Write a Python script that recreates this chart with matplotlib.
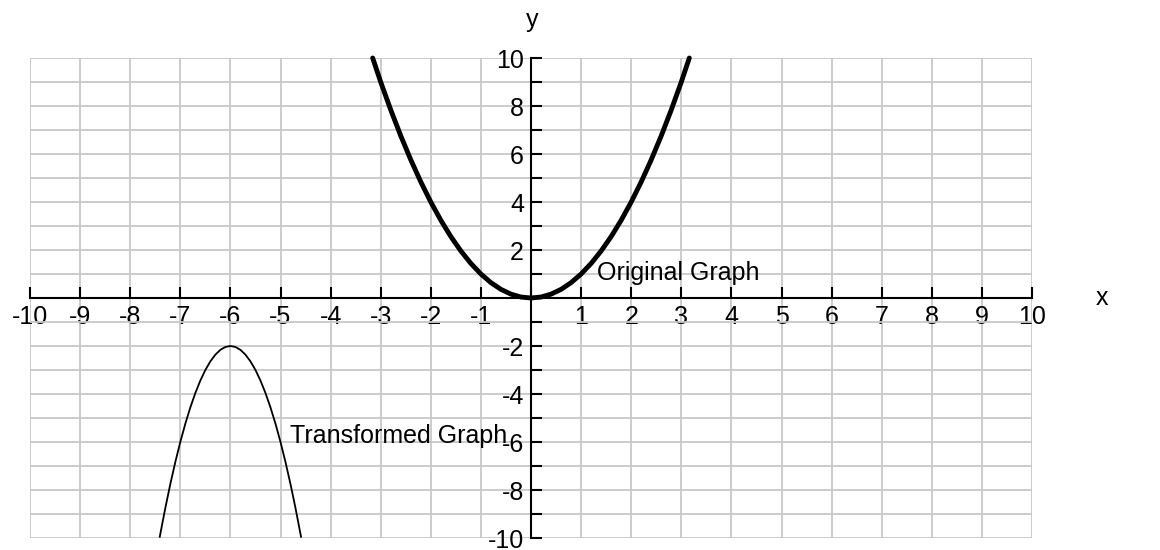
import numpy as np
import matplotlib.pyplot as plt
from matplotlib.ticker import FuncFormatter

plt.rcParams['font.family'] = ['Liberation Sans', 'DejaVu Sans']
plt.rcParams['axes.unicode_minus'] = False

# points
orig_x = [-3.16, -3.0, -2.8, -2.6, -2.4, -2.2, -2.0, -1.8, -1.6, -1.4, -1.2, -1.0,
          -0.8, -0.6, -0.4, -0.2, 0.0, 0.2, 0.4, 0.6, 0.8, 1.0, 1.2, 1.4, 1.6,
          1.8, 2.0, 2.2, 2.4, 2.6, 2.8, 3.0, 3.16]
orig_y = [10.0, 9.0, 7.84, 6.76, 5.76, 4.84, 4.0, 3.24, 2.56, 1.96, 1.44, 1.0,
          0.64, 0.36, 0.16, 0.04, 0.0, 0.04, 0.16, 0.36, 0.64, 1.0, 1.44, 1.96, 2.56,
          3.24, 4.0, 4.84, 5.76, 6.76, 7.84, 9.0, 10.0]

trans_x = [-7.41, -7.3, -7.2, -7.1, -7.0, -6.9, -6.8, -6.7, -6.6, -6.5, -6.4, -6.3,
           -6.2, -6.1, -6.0, -5.9, -5.8, -5.7, -5.6, -5.5, -5.4, -5.3, -5.2, -5.1,
           -5.0, -4.9, -4.8, -4.7, -4.59]
trans_y = [-9.95, -8.76, -7.76, -6.84, -6.0, -5.24, -4.56, -3.96, -3.44, -3.0, -2.64,
           -2.36, -2.16, -2.04, -2.0, -2.04, -2.16, -2.36, -2.64, -3.0, -3.44, -3.96,
           -4.56, -5.24, -6.0, -6.84, -7.76, -8.76, -9.95]

x_ticks = list(range(-10, 11))
y_major = list(range(-10, 11, 2))
y_minor = list(range(-10, 11))

fig = plt.figure(figsize=(11.6, 5.5), dpi=100)
ax = fig.add_axes([30 / 1160, 12 / 550, 1002 / 1160, 480 / 550])
ax.set_xlim(-10, 10)
ax.set_ylim(-10, 10)

ax.set_xticks(x_ticks)
ax.set_yticks(y_major)
ax.set_yticks(y_minor, minor=True)
ax.set_xticks([], minor=True)

ax.grid(True, which='both', color='#c8c8c8', linewidth=1.3)
ax.set_axisbelow(True)
for ln in ax.get_xgridlines() + ax.get_ygridlines():
    ln.set_clip_on(False)

fmt = FuncFormatter(lambda v, p: '' if v == 0 else '%d' % v)
ax.xaxis.set_major_formatter(fmt)
ax.yaxis.set_major_formatter(fmt)

for s in ['top', 'right']:
    ax.spines[s].set_visible(False)
ax.spines['left'].set_position('zero')
ax.spines['bottom'].set_position('zero')
ax.spines['left'].set_linewidth(1.5)
ax.spines['bottom'].set_linewidth(1.5)

ax.tick_params(axis='x', direction='in', length=8, width=1.5, labelsize=18, pad=5)
ax.tick_params(axis='y', which='both', direction='in', length=8, width=1.5,
               labelsize=18, pad=5)

ax.plot(orig_x, orig_y, color='black', linewidth=3.5, solid_joinstyle='round',
        solid_capstyle='round', clip_on=False)
ax.plot(trans_x, trans_y, color='black', linewidth=1.3, clip_on=False)

ax.text(1.32, 1.05, 'Original Graph', fontsize=18, va='center', ha='left')
ax.text(-4.82, -5.75, 'Transformed Graph', fontsize=18, va='center', ha='left')

fig.text(532 / 1160, 1 - 20 / 550, 'y', fontsize=18, ha='center', va='center')
fig.text(1102 / 1160, 1 - 298 / 550, 'x', fontsize=18, ha='center', va='center')

fig.savefig('out.png', dpi=100)
